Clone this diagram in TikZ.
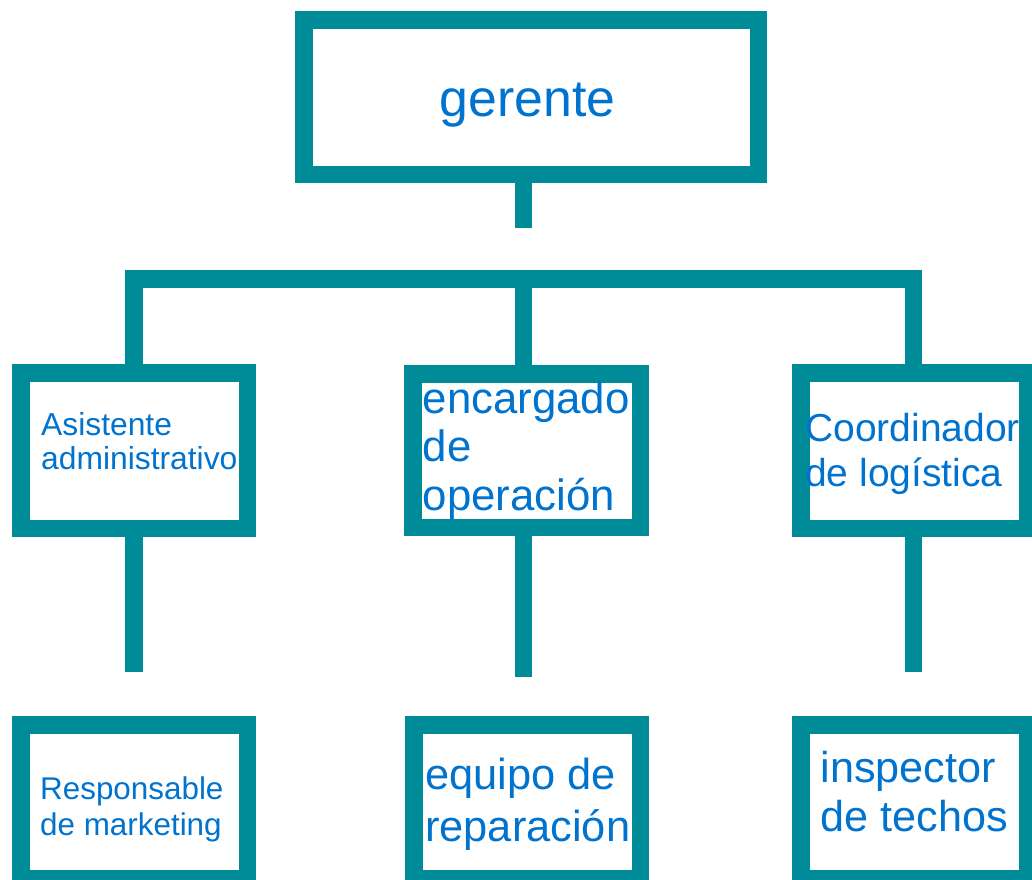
\documentclass[tikz,border=0pt]{standalone}
\usepackage{fontspec}
\setmainfont{Liberation Sans}
\definecolor{tealline}{RGB}{0,139,153}
\definecolor{txtblue}{RGB}{0,115,207}
\begin{document}
\begin{tikzpicture}[x=1pt,y=-1pt,
  box/.style={draw=tealline, line width=17.5pt, fill=white, inner sep=0pt},
  conn/.style={draw=tealline, line width=17.5pt, line join=miter},
  lbl/.style={text=txtblue, anchor=base west, inner sep=0pt, align=left}]
\useasboundingbox (0,0) rectangle (1032,879);
\clip (0,0) rectangle (1032,879);
% boxes
\node[box, minimum width=454.5pt, minimum height=154.5pt] (ger) at (531,97) {};
\node[box, minimum width=226.5pt, minimum height=155.5pt] (asis) at (134,450.5) {};
\node[box, minimum width=227.5pt, minimum height=153.5pt] (enc) at (526.5,450.5) {};
\node[box, minimum width=226.5pt, minimum height=155.5pt] (coo) at (914,450.5) {};
\node[box, minimum width=226.5pt, minimum height=153.75pt] (res) at (134,801.9) {};
\node[box, minimum width=226.5pt, minimum height=153.75pt] (equ) at (527,801.9) {};
\node[box, minimum width=226.5pt, minimum height=153.75pt] (ins) at (914,801.9) {};
% connectors
\coordinate (gerend) at (523.5,228);
\coordinate (barM) at (523.5,279);
\coordinate (barR) at (913.5,279);
\coordinate (s1) at (134,672);
\coordinate (s2) at (523.5,677);
\coordinate (s3) at (913.5,672);
\draw[conn] (gerend |- ger.south) -- (gerend);
\draw[conn] (asis.north) |- (barR) -- (barR |- coo.north);
\draw[conn] (barM) -- (barM |- enc.north);
\draw[conn] (asis.south) -- (s1);
\draw[conn] (s2 |- enc.south) -- (s2);
\draw[conn] (s3 |- coo.south) -- (s3);
% labels (anchor = baseline of the last line)
\node[lbl, font=\fontsize{51.8}{56}\selectfont] (gert) at (439.5,116) {gerente};
\node[lbl, font=\fontsize{31.8}{34}\selectfont] (asist) at (41,469) {Asistente\\administrativo};
\node[lbl, font=\fontsize{43.8}{48.5}\selectfont] (enct) at (422.5,510) {encargado\\de\\operación};
\node[lbl, font=\fontsize{39}{45}\selectfont] (coot) at (805,486) {Coordinador\\de logística};
\node[lbl, font=\fontsize{31.4}{36}\selectfont] (rest) at (40,835) {Responsable\\de marketing};
\node[lbl, font=\fontsize{43.4}{52}\selectfont] (equt) at (425,841) {equipo de\\reparación};
\node[lbl, font=\fontsize{43.2}{48.5}\selectfont] (inst) at (820.5,831) {inspector\\de techos};
\end{tikzpicture}
\end{document}
